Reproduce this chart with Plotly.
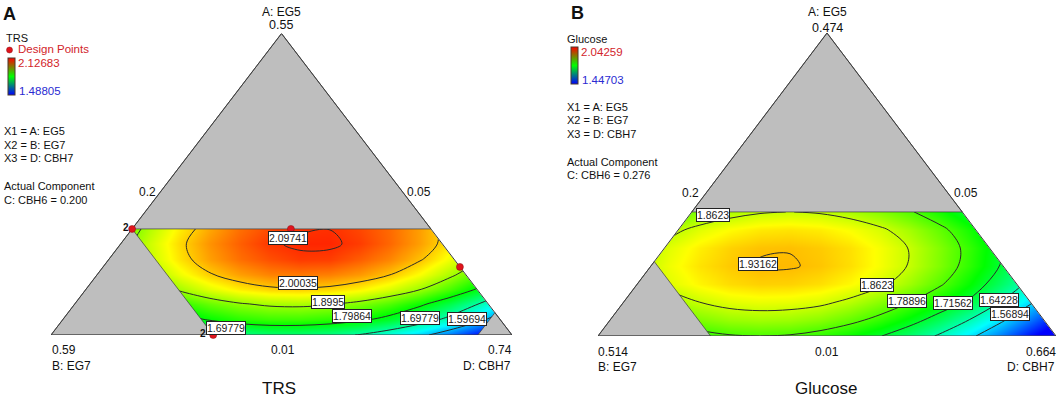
import plotly.graph_objects as go

W, H = 1063, 402

# ---------- Panel A (TRS) data ----------
trs_pos = [0.0808, 0.1160, 0.1511, 0.1862, 0.2214, 0.2565, 0.2916, 0.3268, 0.3619, 0.3971, 0.4322, 0.4674, 0.5025, 0.5376]
trs_eg5 = [0.2001, 0.1733, 0.1463, 0.1194, 0.0925, 0.0656, 0.0387, 0.0100]
trs_z = [
    [1.851, 1.920, 1.977, 2.022, 2.057, 2.080, 2.094, 2.097, 2.082, 2.060, 2.027, 1.983, 1.927, 1.860],
    [1.869, 1.936, 1.991, 2.035, 2.067, 2.093, 2.103, 2.103, 2.089, 2.062, 2.027, 1.981, 1.923, 1.855],
    [1.867, 1.931, 1.984, 2.027, 2.057, 2.077, 2.090, 2.088, 2.068, 2.043, 2.006, 1.958, 1.899, 1.829],
    [1.844, 1.906, 1.958, 1.998, 2.027, 2.045, 2.051, 2.047, 2.031, 2.004, 1.965, 1.915, 1.855, 1.782],
    [1.800, 1.861, 1.911, 1.949, 1.977, 1.993, 1.997, 1.991, 1.973, 1.944, 1.904, 1.852, 1.790, 1.716],
    [1.726, 1.785, 1.833, 1.870, 1.895, 1.909, 1.912, 1.904, 1.884, 1.854, 1.811, 1.758, 1.694, 1.618],
    [1.669, 1.727, 1.773, 1.808, 1.832, 1.844, 1.845, 1.835, 1.814, 1.781, 1.737, 1.682, 1.616, 1.538],
    [1.565, 1.621, 1.665, 1.698, 1.719, 1.730, 1.729, 1.717, 1.694, 1.659, 1.614, 1.557, 1.488, 1.409],
]
trs_levels = [1.59694, 1.69779, 1.79864, 1.8995, 2.00035, 2.09741]
trs_range = [1.48805, 2.12683]
# design points as (EG5, EG7, CBH7)
trs_design = [(0.20, 0.40, 0.20), (0.20, 0.214, 0.386), (0.132, 0.05, 0.618), (0.01, 0.40, 0.39)]
# excluded regions as (EG5, EG7, CBH7)
trs_excluded = [
    [(0.55, 0.05, 0.20), (0.20, 0.40, 0.20), (0.20, 0.05, 0.55)],
    [(0.01, 0.59, 0.20), (0.20, 0.40, 0.20), (0.01, 0.40, 0.39)],
    [(0.01, 0.05, 0.74), (0.01, 0.09, 0.70), (0.05, 0.05, 0.70)],
]
trs_corners = [(0.55, 0.05, 0.20), (0.01, 0.59, 0.20), (0.01, 0.05, 0.74)]

# ---------- Panel B (Glucose) data ----------
glu_pos = [0.0426, 0.0729, 0.1033, 0.1337, 0.1641, 0.1945, 0.2249, 0.2553, 0.2857, 0.3161, 0.3465, 0.3769, 0.4073, 0.4377, 0.4681]
glu_eg5 = [0.2000, 0.1723, 0.1448, 0.1172, 0.0896, 0.0621, 0.0345, 0.0100]
glu_z = [
    [1.752, 1.792, 1.823, 1.845, 1.858, 1.863, 1.858, 1.845, 1.823, 1.794, 1.757, 1.713, 1.661, 1.605, 1.541],
    [1.810, 1.849, 1.877, 1.895, 1.906, 1.909, 1.904, 1.891, 1.871, 1.840, 1.802, 1.756, 1.704, 1.646, 1.581],
    [1.842, 1.878, 1.903, 1.920, 1.929, 1.9305, 1.924, 1.911, 1.889, 1.860, 1.820, 1.774, 1.720, 1.661, 1.594],
    [1.853, 1.886, 1.910, 1.925, 1.934, 1.934, 1.927, 1.912, 1.889, 1.859, 1.818, 1.770, 1.715, 1.654, 1.587],
    [1.843, 1.877, 1.899, 1.914, 1.921, 1.920, 1.912, 1.896, 1.872, 1.837, 1.795, 1.746, 1.689, 1.628, 1.559],
    [1.805, 1.839, 1.863, 1.878, 1.883, 1.881, 1.873, 1.853, 1.825, 1.790, 1.750, 1.708, 1.642, 1.578, 1.510],
    [1.765, 1.797, 1.820, 1.835, 1.840, 1.837, 1.825, 1.803, 1.774, 1.736, 1.692, 1.640, 1.581, 1.516, 1.445],
    [1.719, 1.750, 1.772, 1.785, 1.789, 1.785, 1.771, 1.749, 1.718, 1.680, 1.634, 1.581, 1.521, 1.455, 1.400],
]
glu_levels = [1.56894, 1.64228, 1.71562, 1.78896, 1.8623, 1.93162]
glu_range = [1.44703, 2.04259]
glu_excluded = [
    [(0.474, 0.05, 0.20), (0.20, 0.324, 0.20), (0.20, 0.05, 0.474)],
    [(0.01, 0.514, 0.20), (0.124, 0.40, 0.20), (0.01, 0.40, 0.314)],
]
glu_corners = [(0.474, 0.05, 0.20), (0.01, 0.514, 0.20), (0.01, 0.05, 0.664)]

# ---------- styles ----------
FONT = "Liberation Sans"
GRAY = "#bebebe"
EDGE = "#3c3c3c"
RED = "#d2232a"
BLUE = "#2a2ad2"
COLORS = [[0, "#0000ff"], [0.25, "#00ffff"], [0.5, "#00ff00"], [0.75, "#ffff00"], [1, "#ff0000"]]
BAR_COLORS = [[0, "#0000ff"], [0.5, "#00ff00"], [1, "#ff0000"]]


def to_xy(p):
    eg5, _eg7, cbh7 = p
    return (cbh7 - 0.20) + (eg5 - 0.01) / 2, eg5


def poly(points):
    xy = [to_xy(p) for p in points] + [to_xy(points[0])]
    return [a for a, _ in xy], [b for _, b in xy]


def px_x(x):
    return x / W


def px_y(y):
    return 1 - y / H


fig = go.Figure()


def panel(xname, yname, pos, eg5, z, levels, zrange, corners, excluded, cb_x, cb_y):
    span = corners[0][0] - 0.01
    kw = dict(xaxis=xname, yaxis=yname)
    fig.add_trace(go.Heatmap(
        x=pos, y=eg5[::-1], z=z[::-1], zmin=zrange[0], zmax=zrange[1], colorscale=COLORS,
        zsmooth="best", hoverinfo="skip", showscale=False, **kw))
    for lev in levels:
        fig.add_trace(go.Contour(
            x=pos, y=eg5[::-1], z=z[::-1], showscale=False, hoverinfo="skip",
            contours=dict(start=lev, end=lev + 0.001, size=0.01, coloring="none"),
            line=dict(color="#2a2a2a", width=1, smoothing=1.0), **kw))
    top = span / 2
    for mx, my in (([0, top, 0, 0], [0.01, corners[0][0], corners[0][0], 0.01]),
                   ([span, top, span, span], [0.01, corners[0][0], corners[0][0], 0.01])):
        fig.add_trace(go.Scatter(x=mx, y=my, mode="lines", fill="toself", fillcolor="white",
                                 line=dict(color="white", width=1), hoverinfo="skip", showlegend=False, **kw))
    for pts in excluded:
        ex, ey = poly(pts)
        fig.add_trace(go.Scatter(x=ex, y=ey, mode="lines", fill="toself", fillcolor=GRAY,
                                 line=dict(color=EDGE, width=0.7), hoverinfo="skip", showlegend=False,
                                 cliponaxis=False, **kw))
    ox, oy = poly(corners)
    fig.add_trace(go.Scatter(x=ox, y=oy, mode="lines", line=dict(color=EDGE, width=1), hoverinfo="skip",
                             showlegend=False, cliponaxis=False, **kw))
    # legend colour bar (red-green-blue, as in the reference legend)
    fig.add_trace(go.Scatter(
        x=pos[:2], y=eg5[:2], mode="markers", hoverinfo="skip", showlegend=False, **kw,
        marker=dict(color=zrange, cmin=zrange[0], cmax=zrange[1], colorscale=BAR_COLORS, opacity=0, size=1,
                    showscale=True,
                    colorbar=dict(x=cb_x / W, y=px_y(cb_y), xanchor="left", yanchor="top", xpad=0, ypad=0,
                                  thickness=7, thicknessmode="pixels", len=37, lenmode="pixels",
                                  showticklabels=False, ticks="", outlinecolor="#4a3a2a", outlinewidth=1))))


panel("x", "y", trs_pos, trs_eg5, trs_z, trs_levels, trs_range, trs_corners, trs_excluded, 7.5, 58)
panel("x2", "y2", glu_pos, glu_eg5, glu_z, glu_levels, glu_range, glu_corners, glu_excluded, 571, 47)

dx, dy = zip(*[to_xy(p) for p in trs_design])
fig.add_trace(go.Scatter(x=dx, y=dy, mode="markers", xaxis="x", yaxis="y", cliponaxis=False,
                         marker=dict(color="#e0141c", size=7, symbol="circle", line=dict(color="#8a1015", width=0.5)),
                         hoverinfo="skip", showlegend=False))


def axis(domain, rng):
    return dict(domain=domain, range=rng, visible=False, fixedrange=True)


layout_axes = dict(
    xaxis=axis([51 / W, 512 / W], [0, 0.54]),
    yaxis=axis([px_y(335), px_y(33.5)], [0.01, 0.55]),
    xaxis2=axis([598 / W, 1056 / W], [0, 0.464]),
    yaxis2=axis([px_y(336), px_y(33)], [0.01, 0.474]),
)

ann = []


def text(s, x, y, size=11, color="#111111", anchor="left", bold=False):
    ann.append(dict(text=f"<b>{s}</b>" if bold else s, x=px_x(x), y=px_y(y), xref="paper", yref="paper",
                    xanchor=anchor, yanchor="middle", showarrow=False, borderpad=0, borderwidth=0,
                    font=dict(family=FONT, size=size, color=color)))


def label(s, x, y):
    ann.append(dict(text=s, x=px_x(x), y=px_y(y), xref="paper", yref="paper", xanchor="center",
                    yanchor="middle", showarrow=False, bgcolor="white", bordercolor="#222222", borderwidth=1,
                    borderpad=0, font=dict(family=FONT, size=10.5, color="#1a1a1a")))


# Panel A text
text("A", 3, 14, 18, bold=True)
text("TRS", 6, 38)
text("Design Points", 18, 49.5, 11.5, RED)
text("2.12683", 18, 63, 11.5, RED)
text("1.48805", 19, 90.5, 11.5, BLUE)
for s, y in [("X1 = A: EG5", 131), ("X2 = B: EG7", 145), ("X3 = D: CBH7", 158),
             ("Actual Component", 186), ("C: CBH6 = 0.200", 200)]:
    text(s, 4, y)
text("A: EG5", 281, 12, 12, anchor="center")
text("0.55", 281, 25, 12.5, anchor="center")
text("0.2", 147, 192, 12, anchor="center")
text("0.05", 419, 192, 12, anchor="center")
text("0.59", 52, 350, 12)
text("B: EG7", 52, 366, 12)
text("0.01", 283, 350, 12, anchor="center")
text("0.74", 512, 350, 12, anchor="right")
text("D: CBH7", 511, 366, 12, anchor="right")
text("TRS", 279, 388, 17, anchor="center")
text("2", 123, 227, 10, bold=True)
text("2", 200, 333, 10, bold=True)
for s, x, y in [("2.09741", 288, 238), ("2.00035", 298, 283), ("1.8995", 328, 302), ("1.79864", 352, 316),
                ("1.69779", 420, 318), ("1.59694", 467, 319), ("1.69779", 226, 328)]:
    label(s, x, y)

# Panel B text
text("B", 571, 13, 18, bold=True)
text("Glucose", 567, 39)
text("2.04259", 581, 52, 11.5, RED)
text("1.44703", 582, 80, 11.5, BLUE)
for s, y in [("X1 = A: EG5", 107), ("X2 = B: EG7", 120), ("X3 = D: CBH7", 134),
             ("Actual Component", 162), ("C: CBH6 = 0.276", 175)]:
    text(s, 567, y)
text("A: EG5", 827, 12, 12, anchor="center")
text("0.474", 827, 28, 12.5, anchor="center")
text("0.2", 690, 193, 12, anchor="center")
text("0.05", 966, 193, 12, anchor="center")
text("0.514", 598, 352, 12)
text("B: EG7", 598, 367, 12)
text("0.01", 827, 352, 12, anchor="center")
text("0.664", 1056, 352, 12, anchor="right")
text("D: CBH7", 1055, 367, 12, anchor="right")
text("Glucose", 826, 388, 17, anchor="center")
for s, x, y in [("1.8623", 713, 215), ("1.93162", 758, 264), ("1.8623", 877, 285), ("1.78896", 907, 301),
                ("1.71562", 953, 303), ("1.64228", 999, 300), ("1.56894", 1010, 314)]:
    label(s, x, y)

legend_shape = [dict(type="circle", xref="paper", yref="paper", x0=px_x(6.5), x1=px_x(12.5),
                     y0=px_y(53), y1=px_y(47), fillcolor="#e0141c", line=dict(color="#8a1015", width=0.5))]

fig.update_layout(width=W, height=H, margin=dict(l=0, r=0, t=0, b=0), paper_bgcolor="white",
                  plot_bgcolor="white", showlegend=False, annotations=ann, shapes=legend_shape,
                  font=dict(family=FONT), **layout_axes)

fig.write_html("out.html", post_script="document.body.style.margin='0';", config=dict(displayModeBar=False))
